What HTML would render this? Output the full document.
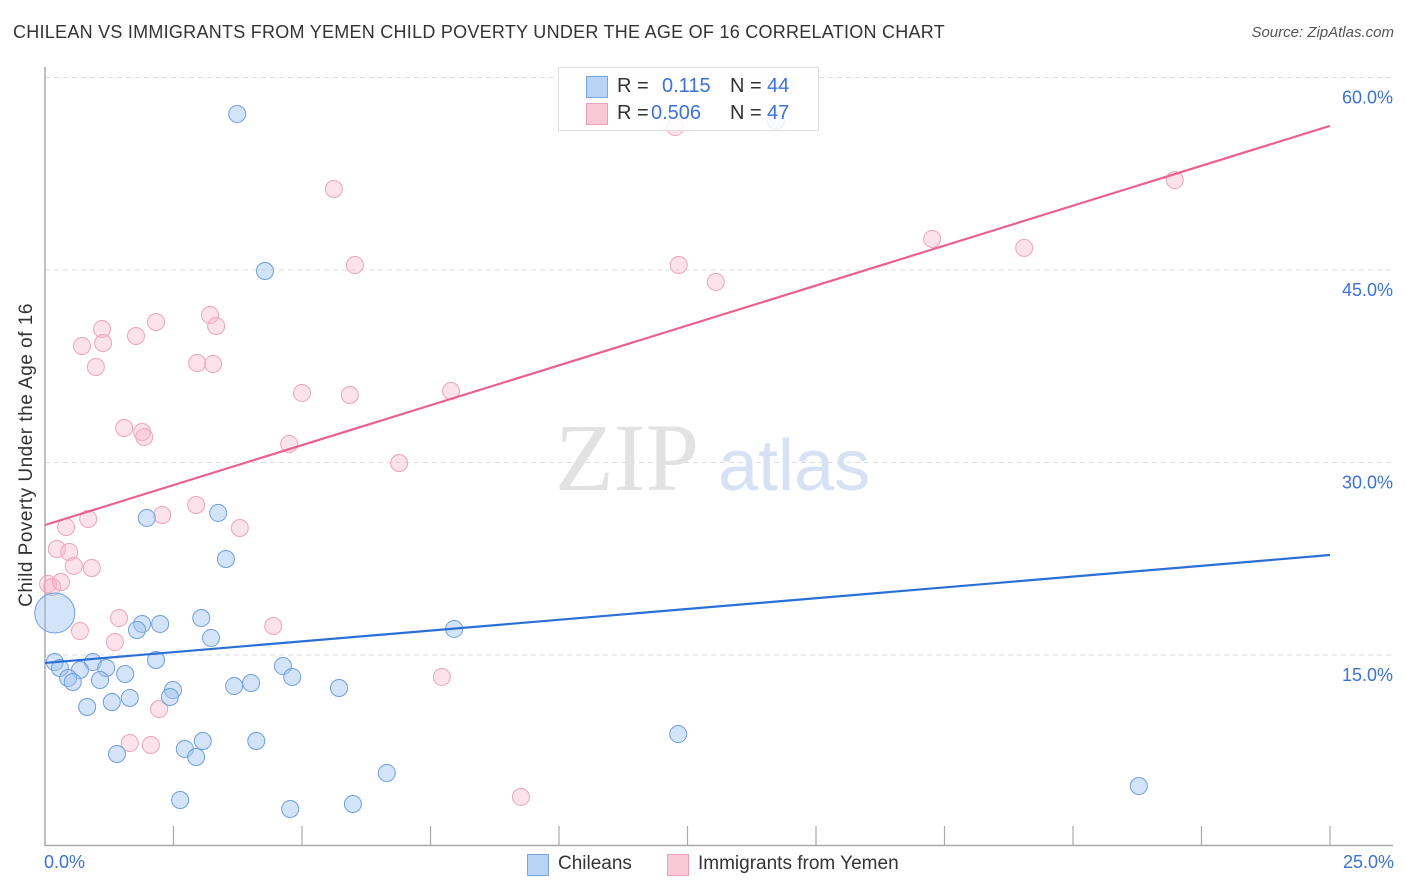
<!DOCTYPE html>
<html><head><meta charset="utf-8">
<style>
body{margin:0;background:#fff;font-family:"Liberation Sans",sans-serif;}
#wrap{position:relative;width:1406px;height:892px;overflow:hidden;}
.t{position:absolute;white-space:nowrap;}
</style></head>
<body>
<div id="wrap">
<div class="t" style="left:13px;top:22px;font-size:18px;letter-spacing:0.26px;color:#333;">CHILEAN VS IMMIGRANTS FROM YEMEN CHILD POVERTY UNDER THE AGE OF 16 CORRELATION CHART</div>
<div class="t" style="right:12px;top:24px;font-size:15px;color:#555;font-style:italic;">Source: ZipAtlas.com</div>
<svg id="svg" width="1406" height="892" style="position:absolute;left:0;top:0;"></svg>
</div>
<script>
const blueX=[3.74,4.28,1.98,3.37,3.52,0.19,1.89,2.24,1.79,3.04,3.23,7.96,0.19,0.29,0.93,1.19,0.68,0.45,0.54,1.07,1.56,2.16,4.63,4.81,2.49,2.43,3.68,4.01,5.72,0.82,1.30,1.65,3.07,2.72,2.94,4.11,1.40,12.32,6.65,2.63,4.77,5.99,21.28,14.22];
const blueY=[57.16,44.92,25.68,26.07,22.48,18.27,17.42,17.42,16.95,17.88,16.33,17.03,14.45,13.99,14.45,13.99,13.83,13.21,12.90,13.05,13.52,14.61,14.14,13.29,12.27,11.73,12.58,12.82,12.43,10.95,11.34,11.65,8.30,7.68,7.05,8.30,7.29,8.84,5.81,3.70,3.00,3.39,4.79,56.61];
const pinkX=[12.26,5.62,21.98,17.26,19.05,6.03,12.33,13.05,3.21,3.33,2.16,1.11,1.77,1.13,0.72,0.99,2.96,3.27,5.00,5.93,7.90,1.54,1.89,1.93,4.75,6.89,2.94,2.28,0.84,0.41,3.79,0.23,0.47,0.56,0.91,0.06,0.14,0.31,1.44,4.44,0.68,1.36,2.22,7.72,1.65,2.06,9.26];
const pinkY=[56.14,51.31,52.01,47.42,46.72,45.39,45.39,44.07,41.49,40.64,40.95,40.40,39.86,39.31,39.08,37.44,37.75,37.68,35.42,35.26,35.57,32.69,32.38,31.99,31.44,29.96,26.69,25.91,25.60,24.97,24.90,23.26,23.03,21.94,21.78,20.53,20.30,20.69,17.88,17.26,16.87,16.01,10.79,13.29,8.14,7.99,3.94];
const blueTrend=[14.38,22.79];
const pinkTrend=[25.13,56.23];
const yTicks=[15,30,45,60];
const yTickLabels=["15.0%","30.0%","45.0%","60.0%"];
const xTicks=[2.5,5,7.5,10,12.5,15,17.5,20,22.5,25];

const X0=45,X1=1330,Y0=847.5;
const sx=v=>X0+v*(X1-X0)/25;
const sy=v=>Y0-v*192.5/15;
const svg=document.getElementById('svg');
const NS='http://www.w3.org/2000/svg';
function mk(tag,at,parent){const e=document.createElementNS(NS,tag);for(const k in at)e.setAttribute(k,at[k]);(parent||svg).appendChild(e);return e;}

yTicks.forEach((v,i)=>{
  const g=mk('line',{x1:X0,x2:1393,y1:sy(v),y2:sy(v),stroke:'#ddd','stroke-dasharray':'5,4'});
  
  
  const t=mk('text',{x:1393,y:sy(v)+26,'text-anchor':'end','font-size':18,fill:'#3b72d6','font-family':'Liberation Sans, sans-serif'});
  t.textContent=yTickLabels[i];
  
  
});
const ya=mk('line',{x1:X0,x2:X0,y1:67,y2:846,stroke:'#aaa','stroke-width':1.5});


const xa=mk('line',{x1:X0,x2:1393,y1:845.5,y2:845.5,stroke:'#aaa','stroke-width':1.5});


xTicks.forEach(v=>{
  const l=mk('line',{x1:sx(v),x2:sx(v),y1:826,y2:845,stroke:'#aaa','stroke-width':1.2});
  
  
});
const w1=mk('text',{x:555,y:490,'font-size':96,fill:'#e2e2e2','font-family':'Liberation Serif, serif'});
w1.textContent='ZIP';


const w2=mk('text',{x:718,y:490,'font-size':72,fill:'#d6e2f4','font-family':'Liberation Sans, sans-serif'});
w2.textContent='atlas';



pinkX.forEach((v,i)=>{
  const c=mk('circle',{cx:sx(v),cy:sy(pinkY[i]),r:8.5,fill:'rgba(248,182,202,0.4)',stroke:'#efa3bb','stroke-width':1});
  
  
});
blueX.forEach((v,i)=>{
  const c=mk('circle',{cx:sx(v),cy:sy(blueY[i]),r:i===5?20:8.5,fill:'rgba(160,196,240,0.45)',stroke:'#6d9ee0','stroke-width':1});
  
  
});
const tb=mk('line',{x1:sx(0),x2:sx(25),y1:sy(blueTrend[0]),y2:sy(blueTrend[1]),stroke:'#2a6fd6','stroke-width':2.2});


const tp=mk('line',{x1:sx(0),x2:sx(25),y1:sy(pinkTrend[0]),y2:sy(pinkTrend[1]),stroke:'#e8628c','stroke-width':2.2});


</script>

<div class="t" style="left:27px;top:455px;transform:translate(-50%,-50%) rotate(-90deg);font-size:19px;letter-spacing:0.5px;color:#333;">Child Poverty Under the Age of 16</div>
<div class="t" style="left:44px;top:852px;font-size:18px;color:#3b72d6;">0.0%</div>
<div class="t" style="right:12px;top:852px;font-size:18px;color:#3b72d6;">25.0%</div>

<div style="position:absolute;left:558px;top:67px;width:259px;height:62px;border:1px solid #ddd;background:rgba(255,255,255,0.85);font-size:20px;">
  <div style="position:absolute;left:27px;top:8px;width:20px;height:20px;background:#b9d3f5;border:1px solid #7aa6e3;"></div>
  <div class="t" style="left:58px;top:7px;color:#333;">R =</div>
  <div class="t" style="left:103px;top:7px;color:#3b72d6;">0.115</div>
  <div class="t" style="left:171px;top:7px;color:#333;">N =</div>
  <div class="t" style="left:208px;top:7px;color:#3b72d6;">44</div>
  <div style="position:absolute;left:27px;top:35px;width:20px;height:20px;background:#f9c8d6;border:1px solid #ef9fb8;"></div>
  <div class="t" style="left:58px;top:34px;color:#333;">R =</div>
  <div class="t" style="left:92px;top:34px;color:#3b72d6;">0.506</div>
  <div class="t" style="left:171px;top:34px;color:#333;">N =</div>
  <div class="t" style="left:208px;top:34px;color:#3b72d6;">47</div>
</div>

<div style="position:absolute;left:527px;top:853px;">
  <div style="position:absolute;left:0;top:1px;width:20px;height:20px;background:#b9d3f5;border:1px solid #7aa6e3;"></div>
  <div class="t" style="left:31px;top:0;font-size:19px;color:#333;">Chileans</div>
</div>
<div style="position:absolute;left:667px;top:853px;">
  <div style="position:absolute;left:0;top:1px;width:20px;height:20px;background:#f9c8d6;border:1px solid #ef9fb8;"></div>
  <div class="t" style="left:31px;top:0;font-size:19px;color:#333;">Immigrants from Yemen</div>
</div>
</body></html>
